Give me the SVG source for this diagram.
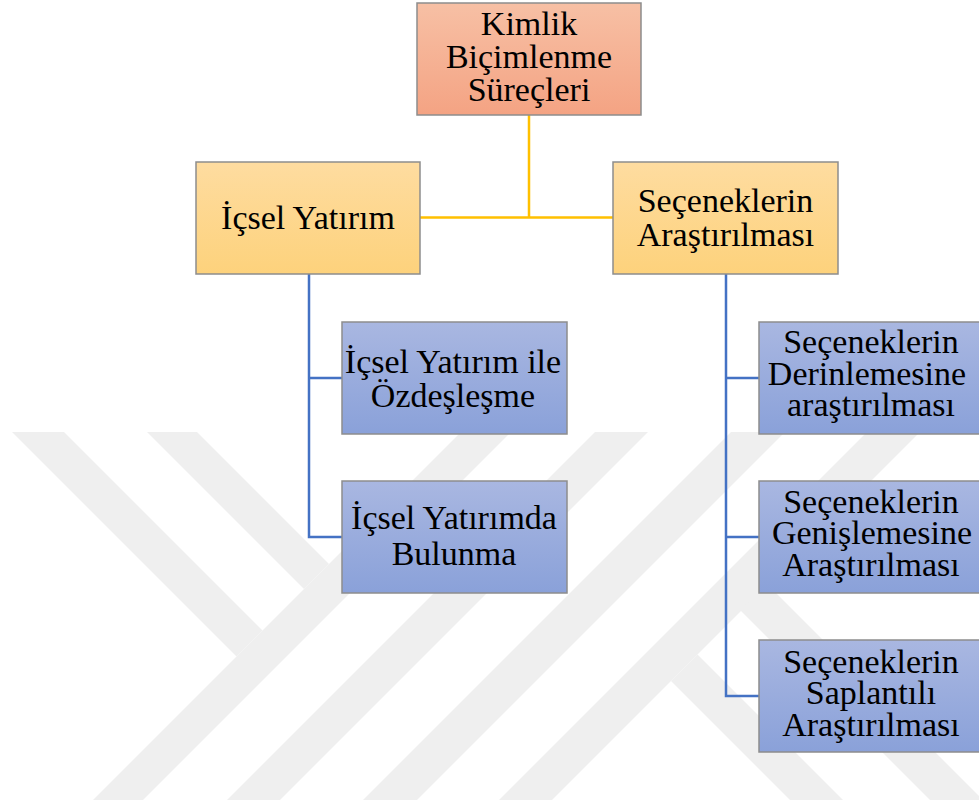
<svg xmlns="http://www.w3.org/2000/svg" width="979" height="806" viewBox="0 0 979 806">
<defs>
<linearGradient id="gTop" x1="0" y1="0" x2="0" y2="1"><stop offset="0" stop-color="#f7c0a5"/><stop offset="1" stop-color="#f4a383"/></linearGradient>
<linearGradient id="gMid" x1="0" y1="0" x2="0" y2="1"><stop offset="0" stop-color="#fedca0"/><stop offset="1" stop-color="#fdd27c"/></linearGradient>
<linearGradient id="gLeaf" x1="0" y1="0" x2="0" y2="1"><stop offset="0" stop-color="#a9b7e1"/><stop offset="1" stop-color="#8aa1d9"/></linearGradient>
<style>
.box{stroke:#8d8d8d;stroke-width:1.5}
.t{font-family:"Liberation Serif","Times New Roman",serif;font-size:34px;fill:#000;text-anchor:middle}
.wm{fill:#efefef;stroke:none}
.cy{stroke:#ffc000;stroke-width:2.5;fill:none}
.cb{stroke:#4472c4;stroke-width:2.5;fill:none}
</style>
</defs>
<rect width="979" height="806" fill="#ffffff"/>
<g id="watermark">
<polygon class="wm" points="12,432 64,432 262.5,630.5 236.5,656.5"/>
<polygon class="wm" points="147,432 197,432 329,564 304,589"/>
<polygon class="wm" points="461,432 511,432 143,800 93,800"/>
<polygon class="wm" points="595,432 648,432 280,800 227,800"/>
<polygon class="wm" points="731,432 785,432 417,800 363,800"/>
<polygon class="wm" points="867,432 920,432 552,800 499,800"/>
<polygon class="wm" points="671,681 697.5,654.5 843,800 790,800"/>
<polygon class="wm" points="740,610 767.5,584.5 983,800 930,800"/>
</g>
<g id="connectors">
<path class="cy" d="M529,115 V217.5 M420,217.5 H613"/>
<path class="cb" d="M309,274 V537 H342 M309,378 H342"/>
<path class="cb" d="M726,274 V696 H759 M726,378 H759 M726,537 H759"/>
</g>
<g id="n-kimlik">
<rect class="box" x="417" y="3" width="224" height="112" fill="url(#gTop)"/>
<text class="t"><tspan x="529" y="35">Kimlik</tspan><tspan x="529" y="68">Biçimlenme</tspan><tspan x="529" y="101">Süreçleri</tspan></text>
</g>
<g id="n-icsel">
<rect class="box" x="196" y="162" width="224" height="112" fill="url(#gMid)"/>
<text class="t" x="308" y="229">İçsel Yatırım</text>
</g>
<g id="n-secenek">
<rect class="box" x="613" y="162" width="225" height="112" fill="url(#gMid)"/>
<text class="t"><tspan x="725.5" y="212">Seçeneklerin</tspan><tspan x="725.5" y="246">Araştırılması</tspan></text>
</g>
<g id="n-ozdes">
<rect class="box" x="342" y="322" width="225" height="112" fill="url(#gLeaf)"/>
<text class="t"><tspan x="453" y="373">İçsel Yatırım ile</tspan><tspan x="453" y="407">Özdeşleşme</tspan></text>
</g>
<g id="n-bulunma">
<rect class="box" x="342" y="481" width="225" height="112" fill="url(#gLeaf)"/>
<text class="t"><tspan x="454" y="529">İçsel Yatırımda</tspan><tspan x="454" y="565">Bulunma</tspan></text>
</g>
<g id="n-derin">
<rect class="box" x="759" y="322" width="225" height="112" fill="url(#gLeaf)"/>
<text class="t"><tspan x="871" y="353">Seçeneklerin</tspan><tspan x="867" y="385">Derinlemesine</tspan><tspan x="871" y="416">araştırılması</tspan></text>
</g>
<g id="n-genis">
<rect class="box" x="759" y="481" width="225" height="112" fill="url(#gLeaf)"/>
<text class="t"><tspan x="871" y="513">Seçeneklerin</tspan><tspan x="872" y="544">Genişlemesine</tspan><tspan x="871" y="576">Araştırılması</tspan></text>
</g>
<g id="n-saplanti">
<rect class="box" x="759" y="640" width="225" height="112" fill="url(#gLeaf)"/>
<text class="t"><tspan x="871" y="673">Seçeneklerin</tspan><tspan x="871" y="704">Saplantılı</tspan><tspan x="871" y="736">Araştırılması</tspan></text>
</g>
</svg>
